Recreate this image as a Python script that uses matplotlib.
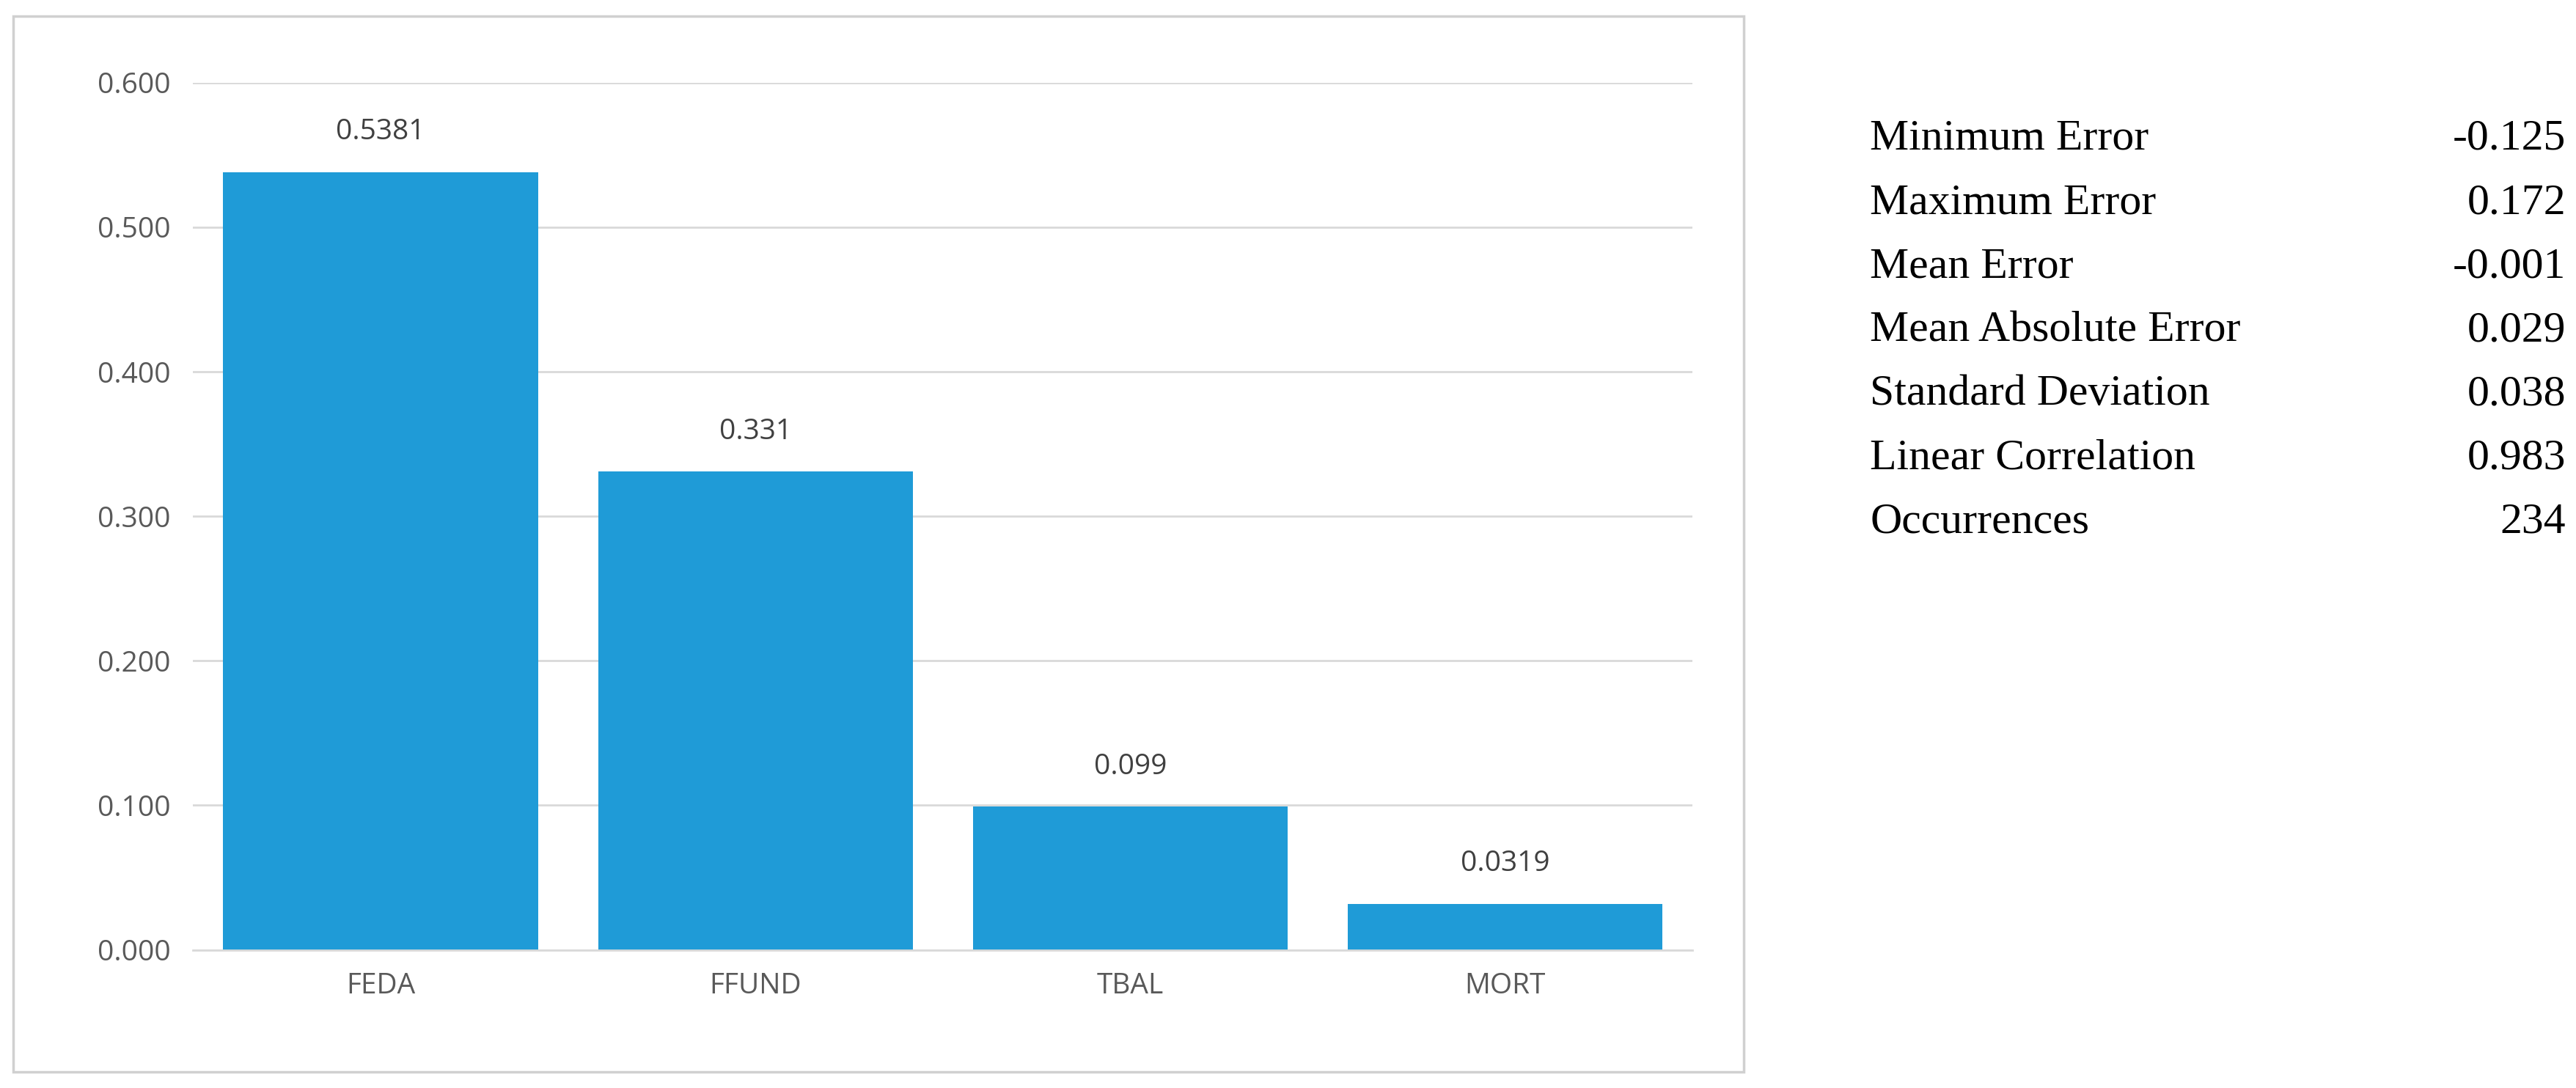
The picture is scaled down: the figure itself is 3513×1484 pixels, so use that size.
import matplotlib
matplotlib.use("Agg")
import matplotlib.pyplot as plt
from matplotlib.patches import Rectangle

categories = ["FEDA", "FFUND", "TBAL", "MORT"]
values = [0.5381, 0.331, 0.099, 0.0319]
value_labels = ["0.5381", "0.331", "0.099", "0.0319"]
yticks = [0.0, 0.1, 0.2, 0.3, 0.4, 0.5, 0.6]

stat_names = ["Minimum Error", "Maximum Error", "Mean Error", "Mean Absolute Error",
              "Standard Deviation", "Linear Correlation", "Occurrences"]
stat_values = ["-0.125", "0.172", "-0.001", "0.029", "0.038", "0.983", "234"]

fig = plt.figure(figsize=(35.13, 14.84), dpi=100)
grey = "#595959"

# chart border
fig.patches.append(Rectangle((0.005, 0.015), 0.672, 0.97, transform=fig.transFigure,
                             fill=False, edgecolor="#d0d0d0", linewidth=2.5))

ax = fig.add_axes([0.075, 0.127, 0.582, 0.797])
x = range(len(categories))
ax.bar(x, values, width=0.84, color="#1f9bd7", zorder=2)
for i, (v, lab) in enumerate(zip(values, value_labels)):
    ax.text(i, v + 0.018, lab, ha="center", va="bottom", fontsize=28,
            color="#404040", family="Open Sans")

ax.set_ylim(0, 0.6)
ax.set_xlim(-0.5, 3.5)
ax.set_yticks(yticks)
ax.set_yticklabels(["%.3f" % t for t in yticks])
ax.set_xticks(list(x))
ax.set_xticklabels(categories)
ax.yaxis.grid(True, color="#d9d9d9", linewidth=2, zorder=0)
ax.set_axisbelow(True)
for s in ["top", "right", "left"]:
    ax.spines[s].set_visible(False)
ax.spines["bottom"].set_color("#d9d9d9")
ax.spines["bottom"].set_linewidth(2)
ax.tick_params(length=0, labelsize=28, colors=grey, pad=22)
for t in ax.get_xticklabels() + ax.get_yticklabels():
    t.set_family("Open Sans")

y0 = 0.872
step = 0.0587
for i, (n, v) in enumerate(zip(stat_names, stat_values)):
    y = y0 - i * step
    fig.text(0.726, y, n, ha="left", va="center", fontsize=43, family="Liberation Serif")
    fig.text(0.996, y, v, ha="right", va="center", fontsize=43, family="Liberation Serif")

fig.savefig("out.png", dpi=100, facecolor="white")
